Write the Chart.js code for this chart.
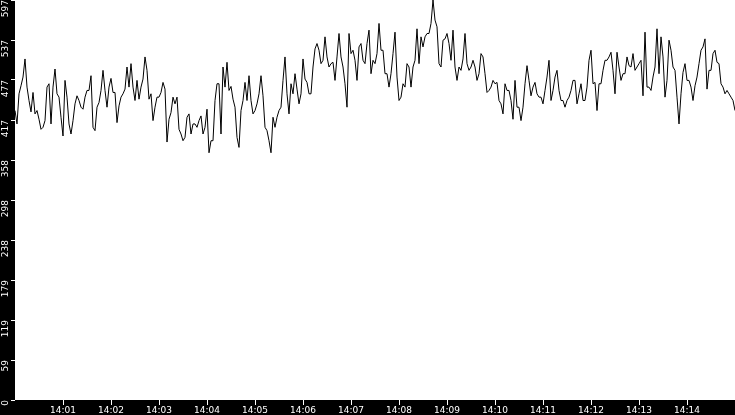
<!DOCTYPE html>
<html>
<head>
<meta charset="utf-8">
<script src="https://cdn.jsdelivr.net/npm/chart.js@4"></script>
<style>
  html, body { margin: 0; padding: 0; background: #000; }
  canvas { display: block; }
</style>
</head>
<body>
<canvas id="rate" width="735" height="415"></canvas>
<script>
// one sample every 2.5 s, starting 14:00:00
const sampleSeconds = 2.5

const values = [
  // 14:00:00 - 14:01:40
  432, 412, 457, 469, 482, 509, 467, 447, 430, 459, 427, 432, 419, 404, 407, 417, 467, 472, 412, 467,
  494, 457, 452, 422, 394, 477, 452, 412, 397, 417, 442, 454, 447, 437, 434, 452, 462, 462, 484, 407,
  // 14:01:40 - 14:03:20
  402, 437, 444, 462, 492, 462, 437, 467, 480, 459, 459, 414, 439, 452, 457, 464, 497, 467, 502, 467,
  447, 477, 449, 467, 479, 512, 492, 449, 457, 417, 437, 452, 452, 459, 474, 464, 385, 419, 429, 452,
  // 14:03:20 - 14:05:00
  442, 452, 404, 397, 387, 392, 422, 427, 397, 412, 412, 407, 417, 424, 397, 407, 434, 369, 387, 387,
  447, 472, 472, 397, 497, 467, 504, 462, 468, 449, 437, 392, 377, 432, 447, 474, 447, 484, 447, 427,
  // 14:05:00 - 14:06:40
  432, 442, 457, 484, 454, 407, 402, 387, 369, 422, 407, 422, 432, 437, 477, 512, 457, 427, 472, 457,
  487, 464, 442, 457, 509, 479, 474, 457, 457, 497, 524, 532, 522, 502, 507, 542, 512, 497, 502, 504,
  // 14:06:40 - 14:08:20
  477, 512, 547, 512, 497, 472, 437, 547, 517, 522, 507, 477, 527, 532, 507, 502, 532, 552, 487, 507,
  502, 517, 562, 522, 522, 487, 487, 467, 487, 517, 549, 482, 447, 452, 472, 467, 502, 497, 467, 497,
  // 14:08:20 - 14:10:00
  507, 554, 502, 542, 527, 542, 547, 547, 562, 597, 567, 557, 502, 497, 537, 539, 547, 532, 507, 552,
  497, 477, 497, 492, 509, 547, 502, 492, 497, 507, 497, 477, 487, 517, 512, 487, 459, 462, 467, 477,
  // 14:10:00 - 14:11:40
  472, 474, 447, 442, 427, 472, 462, 462, 447, 419, 477, 437, 437, 417, 437, 472, 499, 477, 454, 467,
  474, 457, 452, 452, 442, 462, 482, 507, 447, 462, 482, 492, 462, 447, 447, 437, 447, 452, 462, 477,
  // 14:11:40 - 14:13:20
  477, 442, 457, 472, 447, 447, 467, 507, 522, 472, 474, 432, 472, 472, 492, 507, 507, 512, 519, 492,
  457, 519, 497, 477, 487, 487, 512, 499, 497, 517, 492, 497, 502, 507, 454, 549, 467, 467, 462, 482,
  // 14:13:20 - 14:15:00
  497, 554, 487, 542, 512, 452, 477, 537, 522, 497, 492, 452, 412, 457, 489, 502, 477, 477, 467, 447,
  469, 482, 502, 522, 527, 539, 464, 492, 492, 517, 522, 504, 502, 472, 467, 457, 462, 457, 452, 447,
  432
]

const xTickLabels = ['14:01', '14:02', '14:03', '14:04', '14:05', '14:06', '14:07',
  '14:08', '14:09', '14:10', '14:11', '14:12', '14:13', '14:14']
const yTickValues = [0, 59.7, 119.4, 179.1, 238.8, 298.5, 358.2, 417.9, 477.6, 537.3, 597]

let points = values.map((v, i) => ({x: i * sampleSeconds, y: v}))

// black frame behind the axes, white plot area
const frame = {
  id: 'frame',
  beforeDraw(chart) {
    const ctx = chart.ctx
    const a = chart.chartArea
    ctx.save()
    ctx.fillStyle = '#000'
    ctx.fillRect(0, 0, chart.width, chart.height)
    ctx.fillStyle = '#fff'
    ctx.fillRect(a.left, a.top, a.right - a.left, a.bottom - a.top)
    ctx.restore()
  }
}

const tickFont = {family: 'DejaVu Sans', size: 9}

new Chart(document.getElementById('rate').getContext('2d'), {
  type: 'line',
  data: {
    datasets: [{
      data: points,
      borderColor: '#000',
      borderWidth: 1,
      pointRadius: 0,
      tension: 0,
      fill: false
    }]
  },
  options: {
    responsive: false,
    animation: false,
    layout: {padding: 0},
    plugins: {legend: {display: false}, tooltip: {enabled: false}},
    scales: {
      x: {
        type: 'linear',
        min: 0,
        max: 900,
        border: {display: false},
        grid: {drawOnChartArea: false, color: '#fff', tickLength: 5},
        ticks: {
          color: '#fff', font: tickFont, padding: 0,
          maxRotation: 0, autoSkip: false,
          callback: (v, i) => xTickLabels[i]
        },
        afterBuildTicks: s => { s.ticks = xTickLabels.map((l, i) => ({value: (i + 1) * 60})) },
        afterFit: s => { s.height = 15; s.paddingLeft = 0; s.paddingRight = 0 }
      },
      y: {
        min: 0,
        max: 597,
        border: {display: false},
        grid: {drawOnChartArea: false, color: '#fff', tickLength: 4},
        ticks: {
          color: '#fff', font: tickFont, padding: 5,
          minRotation: 90, maxRotation: 90, autoSkip: false,
          callback: v => Math.floor(v)
        },
        afterBuildTicks: s => { s.ticks = yTickValues.map(v => ({value: v})) },
        afterFit: s => { s.width = 15; s.paddingTop = 0; s.paddingBottom = 0 }
      }
    }
  },
  plugins: [frame]
})
</script>
</body>
</html>
